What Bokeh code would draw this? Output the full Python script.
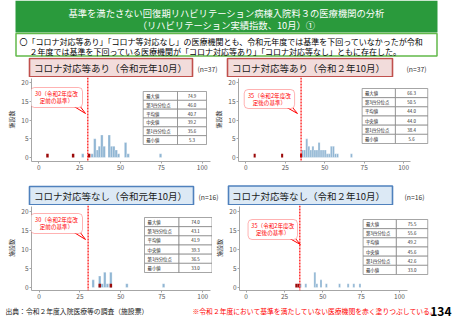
from bokeh.plotting import figure
from bokeh.layouts import column, row
from bokeh.models import Range1d, FixedTicker, Span, BoxAnnotation
from bokeh.core.properties import value
from bokeh.embed import file_html
from bokeh.resources import INLINE

JP = "Noto Sans CJK JP"
W = 453

# ---------------- data ----------------
title_lines = ["基準を満たさない回復期リハビリテーション病棟入院料３の医療機関の分析",
               "（リハビリテーション実績指数、10月）①"]
summary_lines = ["〇「コロナ対応等あり」「コロナ等対応なし」の医療機関とも、令和元年度では基準を下回っていなかったが令和",
                 "２年度では基準を下回っている医療機関が「コロナ対応等あり」「コロナ対応等なし」ともに存在した。"]
source_text = "出典：令和２年度入院医療等の調査（施設票）"
note_text = "※令和２年度において基準を満たしていない医療機関を赤く塗りつぶしている。"
page_no = "134"

panel_titles = ["コロナ対応等あり（令和元年10月）", "コロナ対応等あり（令和２年10月）",
                "コロナ対応等なし（令和元年10月）", "コロナ対応等なし（令和２年10月）"]
panel_n = ["(n=37)", "(n=37)", "(n=16)", "(n=16)"]
thresholds = [30, 35, 30, 35]
callout_texts = [["30（令和2年度改", "定前の基準）"], ["35（令和2年度改", "定後の基準）"],
                 ["30（令和2年度改", "定前の基準）"], ["35（令和2年度改", "定後の基準）"]]
stat_labels = ["最大値", "第3四分位点", "平均値", "中央値", "第1四分位点", "最小値"]
stats_tl = ["74.9", "46.0", "40.7", "39.2", "35.6", "5.3"]
stats_tr = ["66.3", "50.5", "44.0", "44.0", "38.4", "5.6"]
stats_bl = ["74.0", "43.1", "41.9", "39.3", "36.5", "33.0"]
stats_br = ["75.5", "55.6", "49.2", "45.6", "42.6", "33.0"]
x_ticks = [0, 25, 50, 75, 100]
y_ticks = [0, 5, 10, 15, 20]
y_label = "施設数"

# histogram bins (centre of bin, number of facilities)
tl_centers = [26.9, 32.7, 34.3, 35.9, 37.1, 38.6, 40.0, 43.1, 44.5, 45.9, 47.4, 48.8, 53.1, 54.7, 74.5]
tl_counts = [1, 1, 5, 2, 3, 6, 3, 6, 3, 3, 2, 1, 4, 1, 1]
tl_red = [5.3, 21.0, 30.8]
tr_centers = [36.0, 37.3, 38.6, 39.9, 41.2, 42.5, 43.8, 45.1, 46.4, 47.7, 49.0, 50.3, 51.6, 52.9,
              54.2, 55.5, 56.8, 58.1, 66.9]
tr_counts = [2, 2, 5, 3, 2, 3, 2, 2, 4, 2, 2, 2, 1, 1, 3, 3, 1, 1, 1]
tr_red = [5.6, 23.0, 35.0]
bl_centers = [33.1, 37.1, 38.6, 40.2, 41.8, 43.9, 53.7, 76.1]
bl_counts = [2, 3, 1, 4, 1, 4, 1, 1]
bl_red = [37.1, 43.9]
br_centers = [35.4, 38.9, 44.8, 46.1, 48.8, 52.3, 60.9, 66.5, 70.2, 74.2]
br_counts = [1, 1, 4, 1, 2, 1, 1, 1, 1, 1]
br_red = [32.7, 34.0]

BLUE = "#8fb5d3"
DARKRED = "#9b0a0a"
GREY_T = "#595959"


def deco_fig(height, top):
    p = figure(width=W, height=height, x_range=Range1d(0, W), y_range=Range1d(top + height, top),
               output_backend="svg", toolbar_location=None, min_border=0,
               x_axis_location=None, y_axis_location=None)
    p.grid.visible = False
    p.outline_line_color = None
    return p


def txt(p, x, y, s, size, color="black", align="center", style="normal", level=None):
    r = p.text(x=[x], y=[y], text=[s], text_font=value(JP), text_font_size=size,
               text_color=color, text_align=align, text_baseline="middle", text_font_style=style)
    if level:
        r.level = level
    return r


# ---------------- header ----------------
head = deco_fig(57, 0)
head.quad(left=[15], right=[437], top=[0], bottom=[32], fill_color="#2a9a3c", line_color=None)
txt(head, 226, 12.5, title_lines[0], "9.3px", "white")
txt(head, 226, 24, title_lines[1], "9.3px", "white")
head.quad(left=[15.5], right=[436.5], top=[33], bottom=[55.5], fill_color="white",
          line_color="#62b94a", line_width=1.5)
txt(head, 19, 40.5, summary_lines[0], "8px", "black", "left")
txt(head, 29, 50.5, summary_lines[1], "8px", "black", "left")


# ---------------- title strips ----------------
def strip(top, height, boxes, fill, line):
    p = deco_fig(height, top)
    for (l, t, r, b, tx, ty, title, nx, n) in boxes:
        p.quad(left=[l], right=[r], top=[t], bottom=[b], fill_color=fill, line_color=line, line_width=1.6)
        txt(p, tx, ty, title, "9.5px", "#1a1a1a")
        txt(p, nx, ty + 1, n, "6.8px", "#333333")
    return p


strip1 = strip(57, 20, [(29, 58, 192, 76.2, 110, 67.5, panel_titles[0], 207, panel_n[0]),
                        (227, 58, 392, 76.2, 308, 67.5, panel_titles[1], 416, panel_n[1])],
               "#f2dcdb", "#c0504d")
strip2 = strip(182, 23, [(29, 186, 193, 204.2, 110, 195.5, panel_titles[2], 208, panel_n[2]),
                         (228, 185.5, 392, 204.2, 308, 195, panel_titles[3], 414, panel_n[3])],
               "#dce9f5", "#4f81bd")


# ---------------- histogram panels ----------------
def make_panel(centers, counts, reds, bw, thr, ctexts, stats, g):
    X0, UX, Y0, UY = g["x0"], g["ux"], g["y0"], g["uy"]

    def dx(px):
        return (px - X0) / UX

    def dy(py):
        return (Y0 - py) / UY

    px0, pw, ptop, ph = g["x"], g["w"], g["top"], g["h"]
    fl, fr, fb = g["fl"], g["fr"], g["fb"]
    p = figure(width=pw, height=ph, x_range=Range1d(dx(fl), dx(fr)), y_range=Range1d(dy(fb), dy(ptop)),
               output_backend="svg", toolbar_location=None,
               min_border_left=fl - px0, min_border_right=px0 + pw - fr,
               min_border_top=0, min_border_bottom=ptop + ph - fb)
    p.grid.visible = False
    p.outline_line_color = None
    for ax in (p.xaxis[0], p.yaxis[0]):
        ax.axis_line_color = "#a6a6a6"
        ax.major_tick_line_color = "#a6a6a6"
        ax.major_tick_in = 0
        ax.major_tick_out = 2
        ax.minor_tick_line_color = None
        ax.major_label_text_font_size = "6.5px"
        ax.major_label_text_color = GREY_T
        ax.major_label_text_font = JP
        ax.major_label_standoff = 1
    p.xaxis.ticker = FixedTicker(ticks=x_ticks)
    p.yaxis.ticker = FixedTicker(ticks=y_ticks)
    p.xaxis.bounds = (dx(fl), dx(g["axend"]))
    p.yaxis.bounds = (dy(fb), dy(ptop + 1))
    p.yaxis.axis_label = y_label
    p.yaxis.axis_label_text_font = JP
    p.yaxis.axis_label_text_font_size = "6px"
    p.yaxis.axis_label_text_font_style = "normal"
    p.yaxis.axis_label_text_color = "#333333"
    p.yaxis.axis_label_standoff = 2

    p.quad(left=[c - bw / 2 for c in centers], right=[c + bw / 2 for c in centers],
           bottom=0, top=counts, fill_color=BLUE, line_color="white", line_width=0.3)
    p.quad(left=[c - bw / 2 for c in reds], right=[c + bw / 2 for c in reds],
           bottom=0, top=[1] * len(reds), fill_color=DARKRED, line_color=None)

    p.add_layout(Span(location=thr, dimension="height", line_color="#ff0000",
                      line_dash="2 1", line_width=1.2))

    # callout
    l, t, r, b = g["call"]
    tx, ty = g["tip"]
    p.patch(x=[dx(r - 10), dx(r - 3), dx(tx)], y=[dy(b - 2), dy(b - 2), dy(ty)],
            fill_color="white", line_color="#ff0000", line_width=1)
    p.add_layout(BoxAnnotation(left=dx(l), right=dx(r), top=dy(t), bottom=dy(b),
                               fill_color="white", fill_alpha=1, line_color="#ff0000",
                               line_width=1, border_radius=4))
    cx = (l + r) / 2
    txt(p, dx(cx), dy(t + 6), ctexts[0], "5.6px", "#ff0000", level="overlay")
    txt(p, dx(cx), dy(t + 13), ctexts[1], "5.6px", "#ff0000", level="overlay")

    # summary table
    tl_, tt, tr_, tb, dv = g["table"]
    rh = (tb - tt) / len(stat_labels)
    for i, (lab, v) in enumerate(zip(stat_labels, stats)):
        y1 = tt + i * rh
        y2 = y1 + rh
        p.quad(left=[dx(tl_), dx(dv)], right=[dx(dv), dx(tr_)], top=[dy(y1)] * 2, bottom=[dy(y2)] * 2,
               fill_color="white", line_color="#7f7f7f", line_width=0.7)
        txt(p, dx(tl_ + 3), dy(y1 + rh / 2), lab, "4.4px", "#222222", "left")
        txt(p, dx((dv + tr_) / 2), dy(y1 + rh / 2), v, "4.4px", "#222222")
    return p


g_tl = dict(x=0, w=211, top=77, h=105, fl=31, fr=211, fb=161, x0=38.3, ux=1.634, y0=157, uy=3.75,
            axend=210, call=(30, 87, 82, 107), tip=(85, 113), table=(142.7, 91, 206, 144, 177))
g_tr = dict(x=211, w=242, top=77, h=105, fl=228, fr=432, fb=161, x0=235.7, ux=1.66, y0=157, uy=3.75,
            axend=409, call=(234, 89, 287, 108), tip=(290, 113), table=(358, 88, 427, 143, 393))
g_bl = dict(x=0, w=212, top=205, h=97, fl=31, fr=212, fb=290, x0=38.5, ux=1.637, y0=287, uy=3.815,
            axend=210, call=(30, 213, 82, 233), tip=(85, 239), table=(144, 217, 211.5, 272, 178.5))
g_br = dict(x=212, w=241, top=205, h=97, fl=229, fr=432, fb=290, x0=236, ux=1.613, y0=287, uy=3.815,
            axend=406, call=(238, 219, 290, 239), tip=(293, 244), table=(359, 219, 427, 274, 394))

p_tl = make_panel(tl_centers, tl_counts, tl_red, 1.5, thresholds[0], callout_texts[0], stats_tl, g_tl)
p_tr = make_panel(tr_centers, tr_counts, tr_red, 1.3, thresholds[1], callout_texts[1], stats_tr, g_tr)
p_bl = make_panel(bl_centers, bl_counts, bl_red, 1.5, thresholds[2], callout_texts[2], stats_bl, g_bl)
p_br = make_panel(br_centers, br_counts, br_red, 1.3, thresholds[3], callout_texts[3], stats_br, g_br)

# ---------------- footer ----------------
foot = deco_fig(18, 302)
txt(foot, 5, 310.5, source_text, "6.8px", "#222222", "left")
txt(foot, 192, 310.5, note_text, "6.8px", "#ff0000", "left")
txt(foot, 451, 310.5, page_no, "12px", "black", "right", "bold")

layout = column(head, strip1, row(p_tl, p_tr), strip2, row(p_bl, p_br), foot)
open("out.html", "w").write(file_html(layout, INLINE))
